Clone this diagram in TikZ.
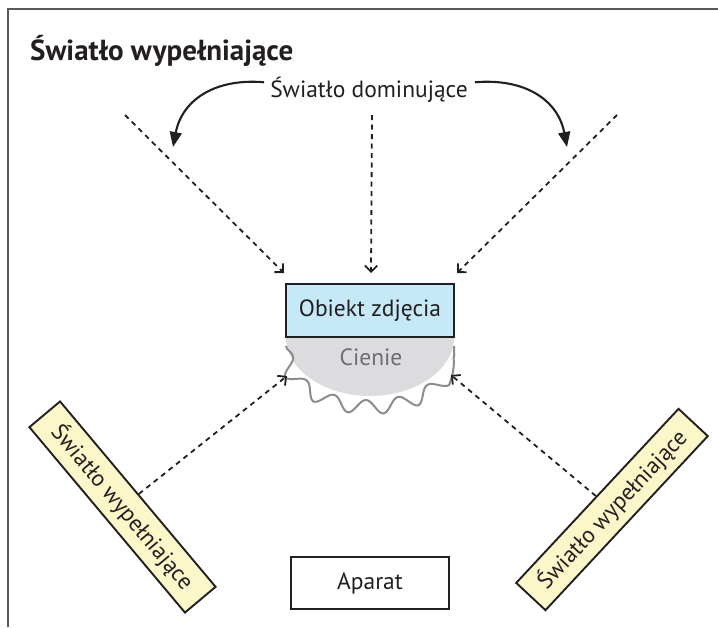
\documentclass[tikz,border=0pt]{standalone}
\usepackage{fontspec}
\setmainfont{PT Sans}
\usetikzlibrary{arrows.meta,decorations.pathmorphing}
\definecolor{ink}{HTML}{231F20}
\definecolor{objblue}{HTML}{C6E9F8}
\definecolor{fillyel}{HTML}{FCF7C8}
\definecolor{shadowgray}{HTML}{DCDCDE}
\definecolor{wavegray}{HTML}{8C8C8E}
\definecolor{shadowtext}{HTML}{6D6E71}
\definecolor{framegray}{HTML}{58595B}
\begin{document}
\begin{tikzpicture}[x=1pt,y=-1pt,
  lbl/.style={font=\fontsize{23.5}{27}\selectfont, text=ink, inner sep=0pt},
  box/.style={draw=ink, line width=2.2pt, inner sep=0pt, font=\fontsize{23.5}{27}\selectfont, text=ink},
  lightbox/.style={box, fill=fillyel, line width=1.9pt, minimum height=40pt, font=\fontsize{23}{27}\selectfont},
  ray/.style={draw=ink, line width=1.8pt, dash pattern=on 5pt off 4.5pt, -{Straight Barb[angle=90:7pt 1]}},
  pointer/.style={draw=ink, line width=2.1pt, -{Triangle[length=15pt,width=12pt]}}
]
\useasboundingbox (0,0) rectangle (718,627);
\draw[framegray, line width=2pt] (8,627) -- (8,9) -- (718,9);

\node[lbl, font=\fontsize{29}{33}\selectfont\bfseries, anchor=base west] (title) at (30,60) {Światło wypełniające};
\node[lbl, anchor=base] (dom) at (369,97) {Światło dominujące};

% shadow
\fill[shadowgray] (286,337) arc[start angle=180, end angle=0, x radius=84, y radius=59] -- cycle;
\draw[wavegray, line width=2pt, decorate, decoration={snake, amplitude=7pt, segment length=34pt}]
  (286,346) arc[start angle=180, end angle=0, x radius=84, y radius=52];
\node[lbl, text=shadowtext] (cienie) at (371,357) {Cienie};

\node[box, fill=objblue, minimum width=168pt, minimum height=53pt] (obj) at (370,310.5) {Obiekt zdjęcia};
\node[box, minimum width=158pt, minimum height=52pt] (cam) at (370,583) {Aparat};

\node[lightbox, minimum width=242pt, rotate=-50] (fillL) at (122.5,507) {Światło wypełniające};
\node[lightbox, minimum width=238pt, rotate=47] (fillR) at (612,509.5) {Światło wypełniające};

% dominant light rays
\coordinate (s1) at (125,115);
\coordinate (s2) at (372,115);
\coordinate (s3) at (617,115);
\coordinate (t1) at (284,273);
\coordinate (t2) at (371,273);
\coordinate (t3) at (457,273);
\draw[ray] (s1) -- (t1);
\draw[ray] (s2) -- (t2);
\draw[ray] (s3) -- (t3);

% fill light rays
\coordinate (t4) at (287,376);
\coordinate (t5) at (451,375);
\draw[ray] (fillL) -- (t4);
\draw[ray] (fillR) -- (t5);

% curved pointers
\draw[pointer] (dom.west) ++(-6,-7) .. controls (215,78) and (182,100) .. (173,147);
\draw[pointer] (dom.east) ++(7,-7) .. controls (525,78) and (558,100) .. (567,147);
\end{tikzpicture}
\end{document}
